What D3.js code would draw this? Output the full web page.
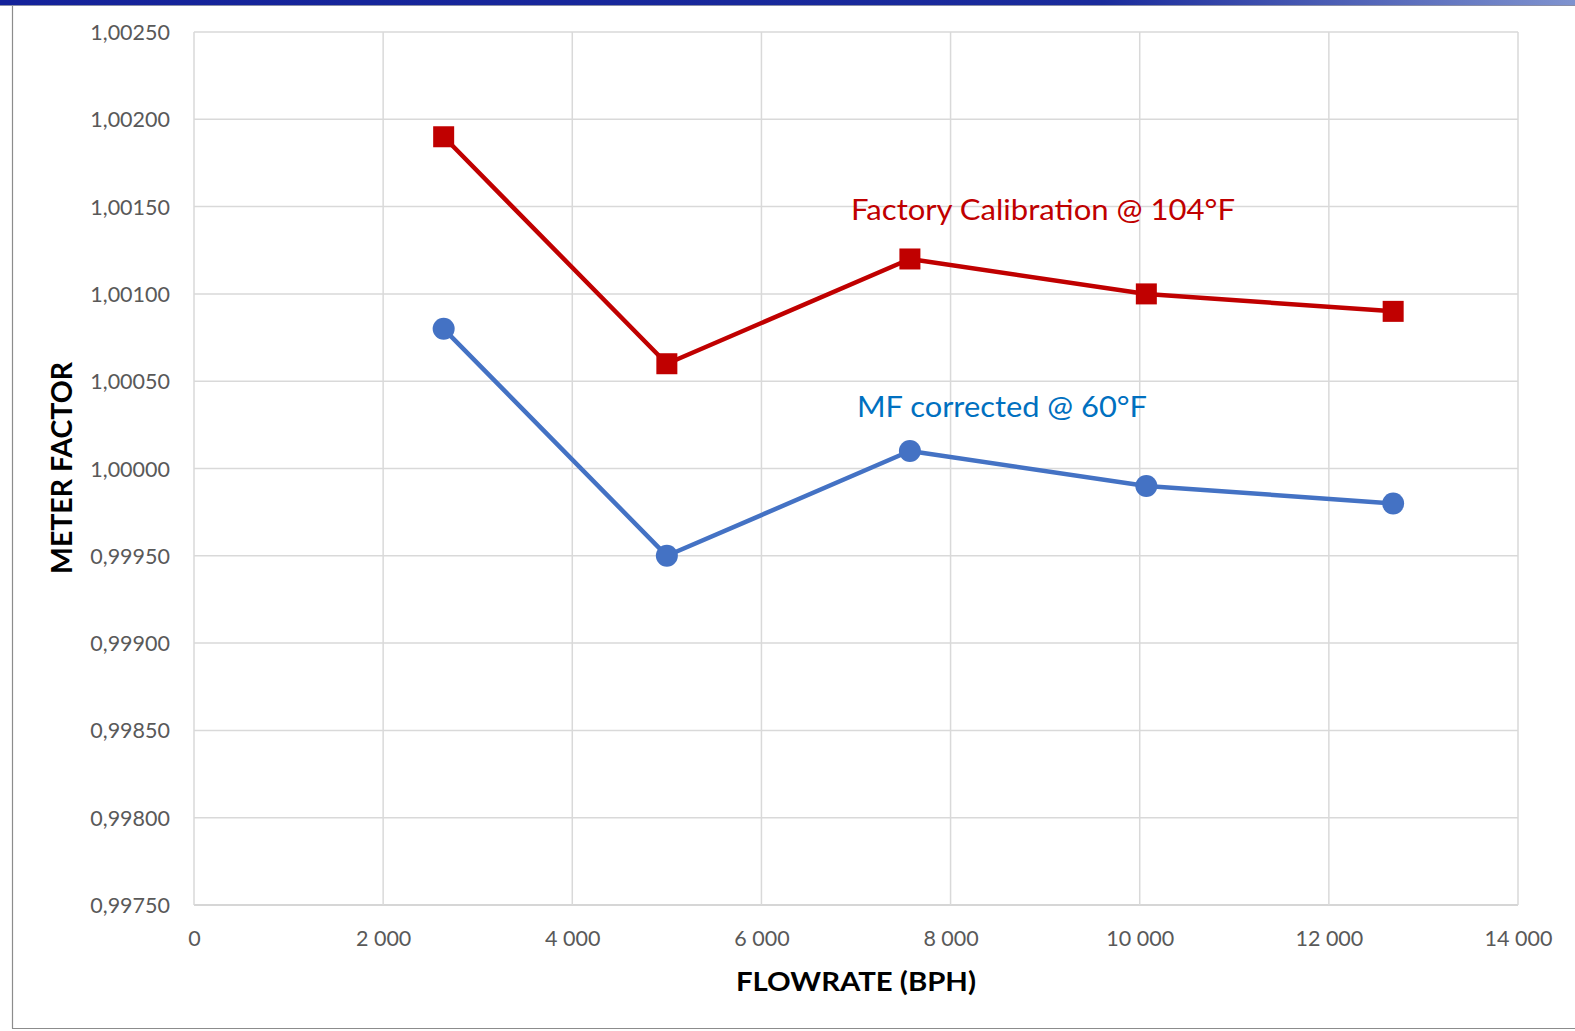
<!DOCTYPE html>
<html>
<head>
<meta charset="utf-8">
<script src="https://cdn.jsdelivr.net/npm/d3@7"></script>
<style>
  html, body { margin: 0; padding: 0; background: #ffffff; }
  svg { display: block; }
</style>
</head>
<body>
<svg id="chart" width="1575" height="1031"></svg>
<script>
// Flow rates (BPH) for each proving run
const flowrates = [2640, 5000, 7570, 10070, 12680];
// Meter factor from factory calibration at 104°F
const factoryMF = [1.0019, 1.0006, 1.0012, 1.0010, 1.0009];
// Meter factor corrected to 60°F
const correctedMF = [1.0008, 0.9995, 1.0001, 0.9999, 0.9998];

const xTicks = [0, 2000, 4000, 6000, 8000, 10000, 12000, 14000];
const yTicks = [0.9975, 0.9980, 0.9985, 0.9990, 0.9995, 1.0000, 1.0005, 1.0010, 1.0015, 1.0020, 1.0025];

const svg = d3.select("#chart");
const W = 1575, H = 1031;
const plot = { left: 194, top: 32, right: 1518, bottom: 905 };

const x = d3.scaleLinear().domain([0, 14000]).range([plot.left, plot.right]);
const y = d3.scaleLinear().domain([0.9975, 1.0025]).range([plot.bottom, plot.top]);

const font = "Lato, 'Open Sans', sans-serif";

// Slide frame: gradient bar across the top, thin rules left and bottom
const defs = svg.append("defs");
const grad = defs.append("linearGradient").attr("id", "topbar").attr("x1", 0).attr("x2", 1);
grad.append("stop").attr("offset", 0).attr("stop-color", "#14229a");
grad.append("stop").attr("offset", 0.7).attr("stop-color", "#1a2b9c");
grad.append("stop").attr("offset", 1).attr("stop-color", "#7f93cf");
svg.append("rect").attr("x", 0).attr("y", 0).attr("width", W).attr("height", 5).attr("fill", "url(#topbar)");
svg.append("line").attr("x1", 0).attr("x2", W).attr("y1", 5.5).attr("y2", 5.5)
  .attr("stroke", "#8a8fa8").attr("stroke-width", 1);
svg.append("line").attr("x1", 12.5).attr("x2", 12.5).attr("y1", 6).attr("y2", 1028.5)
  .attr("stroke", "#8c8c8c").attr("stroke-width", 1.2);
svg.append("line").attr("x1", 12).attr("x2", W).attr("y1", 1028.5).attr("y2", 1028.5)
  .attr("stroke", "#8c8c8c").attr("stroke-width", 1.2);

// Gridlines
const grid = svg.append("g");
grid.selectAll("line.h").data(yTicks).join("line")
  .attr("x1", plot.left).attr("x2", plot.right)
  .attr("y1", d => y(d)).attr("y2", d => y(d))
  .attr("stroke", d => d === 0.9975 ? "#c8c8c8" : "#d9d9d9").attr("stroke-width", 1.5);
grid.selectAll("line.v").data(xTicks).join("line")
  .attr("y1", plot.top).attr("y2", plot.bottom)
  .attr("x1", d => x(d)).attr("x2", d => x(d))
  .attr("stroke", "#d9d9d9").attr("stroke-width", 1.5);

// Axes (tick labels only)
const commaFmt = d => d3.format(".5f")(d).replace(".", ",");
const spaceFmt = d => d3.format(",")(d).replace(/,/g, " ");

const yAxis = svg.append("g").attr("transform", `translate(${plot.left - 24},0)`)
  .call(d3.axisLeft(y).tickValues(yTicks).tickFormat(commaFmt).tickSize(0).tickPadding(0));
yAxis.select(".domain").remove();
yAxis.selectAll("text").attr("font-family", font).attr("font-size", 21.5)
  .attr("fill", "#595959").attr("dy", "0.35em");

const xAxis = svg.append("g").attr("transform", `translate(0,${plot.bottom + 26})`)
  .call(d3.axisBottom(x).tickValues(xTicks).tickFormat(spaceFmt).tickSize(0).tickPadding(0));
xAxis.select(".domain").remove();
xAxis.selectAll("text").attr("font-family", font).attr("font-size", 21.5)
  .attr("fill", "#595959").attr("dy", "0.71em");

// Axis titles
svg.append("text").attr("x", 856).attr("y", 991)
  .attr("text-anchor", "middle").attr("font-family", font).attr("font-weight", 700)
  .attr("font-size", 27.5).attr("fill", "#000")
  .attr("textLength", 240).attr("lengthAdjust", "spacingAndGlyphs")
  .text("FLOWRATE (BPH)");
svg.append("text").attr("transform", "translate(72,468) rotate(-90)")
  .attr("text-anchor", "middle").attr("font-family", font).attr("font-weight", 700)
  .attr("font-size", 29).attr("fill", "#000")
  .attr("textLength", 212).attr("lengthAdjust", "spacingAndGlyphs")
  .text("METER FACTOR");

// Series
const line = d3.line().x(d => x(d[0])).y(d => y(d[1]));
const redPts = flowrates.map((f, i) => [f, factoryMF[i]]);
const bluePts = flowrates.map((f, i) => [f, correctedMF[i]]);

svg.append("path").datum(redPts).attr("d", line)
  .attr("fill", "none").attr("stroke", "#c00000").attr("stroke-width", 4.5).attr("stroke-linejoin", "round");
svg.append("path").datum(bluePts).attr("d", line)
  .attr("fill", "none").attr("stroke", "#4472c4").attr("stroke-width", 4.5).attr("stroke-linejoin", "round");

const sq = 21;
svg.selectAll("rect.mk").data(redPts).join("rect")
  .attr("x", d => x(d[0]) - sq / 2).attr("y", d => y(d[1]) - sq / 2)
  .attr("width", sq).attr("height", sq).attr("fill", "#c00000");
svg.selectAll("circle.mk").data(bluePts).join("circle")
  .attr("cx", d => x(d[0])).attr("cy", d => y(d[1])).attr("r", 11).attr("fill", "#4472c4");

// Series labels
svg.append("text").attr("x", 851).attr("y", 220)
  .attr("font-family", font).attr("font-size", 29).attr("fill", "#c00000")
  .attr("textLength", 384).attr("lengthAdjust", "spacingAndGlyphs")
  .text("Factory Calibration @ 104°F");
svg.append("text").attr("x", 857).attr("y", 416.5)
  .attr("font-family", font).attr("font-size", 29).attr("fill", "#0070c0")
  .attr("textLength", 290).attr("lengthAdjust", "spacingAndGlyphs")
  .text("MF corrected @ 60°F");
</script>
</body>
</html>
